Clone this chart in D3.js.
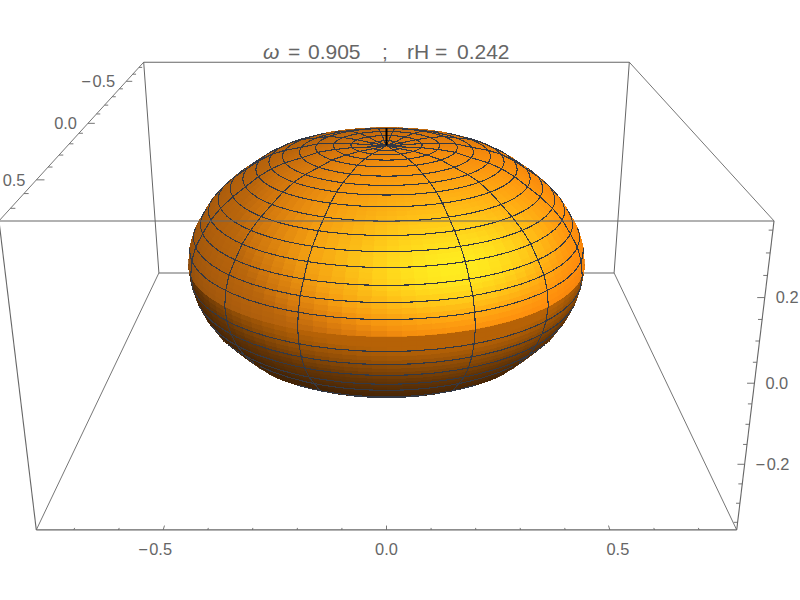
<!DOCTYPE html>
<html><head><meta charset="utf-8">
<script src="https://cdn.jsdelivr.net/npm/d3@7"></script>
<style>html,body{margin:0;padding:0;background:#fff}svg{display:block}text{font-family:"Liberation Sans",Arial,sans-serif;fill:#666}</style>
</head><body><svg id="c" width="800" height="600"></svg>
<script>
// --- data ---
const rowRho=[0,.047,.094,.14,.187,.23,.275,.311,.346,.381,.415,.448,.475,.498,.518,.53,.535,.531,.521,.505,.483,.455,.425,.39,.35,.31,.26,.21,.155,.102,.05,.02,0];
const rowZ=[.309,.309,.311,.31,.306,.295,.285,.272,.2535,.229,.205,.1765,.147,.111,.076,.038,-.003,-.044,-.083,-.12,-.155,-.186,-.22,-.24,-.257,-.272,-.285,-.296,-.303,-.31,-.31,-.31,-.31];
const meshSkipRows=[0,16,32];
const meridianDeg=[23,48,73,98,123,148,173,-173,-148,-123,-98,-73,-48,-23];
const axisStick=[.309,.357];
const titleParts=[["ω",263,"italic"],["=",288],["0.905",308],[";",382],["rH",407],["=",435],["0.242",457]];
const xMajor=[-.5,0,.5], xMinor=[-.7,-.6,-.4,-.3,-.2,-.1,.1,.2,.3,.4,.6,.7];
const yMajor=[-.5,0,.5], yMinor=[-.7,-.6,-.4,-.3,-.2,-.1,.1,.2,.3,.4,.6,.7];
const zMajor=[-.2,0,.2], zMinor=[-.35,-.3,-.25,-.15,-.1,-.05,.05,.1,.15,.25,.3,.35];
const xLabels=["−0.5","0.0","0.5"], yLabels=["−0.5","0.0","0.5"], zLabels=["−0.2","0.0","0.2"];
const boxX=.784, boxY=.78, boxZ=.37;
const R=.535, H=.31;

// --- camera ---
const sx=d3.scaleLinear([-boxX,boxX],[-1,1]), sy=d3.scaleLinear([-boxY,boxY],[-1,1]), sz=d3.scaleLinear([-boxZ,boxZ],[-1,1]);
const cam={cx:386.5,w0:.003487,wy:-.000769,wz:-.0001375,v0:.8846,vy:.157,vz:-.4715};
function projHat(a,b,c){const w=cam.w0+cam.wy*b+cam.wz*c;return [cam.cx+a/w,(cam.v0+cam.vy*b+cam.vz*c)/w,w];}
const project=(x,y,z)=>projHat(sx(x),sy(y),sz(z));
const eyeHatY=(()=>{const k=-cam.v0/cam.vz, m=-cam.vy/cam.vz;return -(cam.w0+cam.wz*k)/(cam.wy+cam.wz*m);})();
const eyeHatZ=-cam.v0/cam.vz-cam.vy/cam.vz*eyeHatY;
const eye=[0,sy.invert(eyeHatY),sz.invert(eyeHatZ)];
const el=Math.atan2(eye[2],eye[1]), ce=Math.cos(el), se=Math.sin(el);

const svg=d3.select("#c");
svg.append("rect").attr("width",800).attr("height",600).attr("fill","#fff");
const line=d3.line();
const GREY="#666";
function seg(g,a,b,w){g.append("path").attr("d",line([a.slice(0,2),b.slice(0,2)])).attr("fill","none").attr("stroke",GREY).attr("stroke-width",w);}
const P=(a,b,c)=>projHat(a,b,c);

const back=svg.append("g");
seg(back,P(-1,-1,1),P(1,-1,1),1.1);
seg(back,P(-1,-1,-1),P(1,-1,-1),1.1);
seg(back,P(-1,-1,1),P(-1,-1,-1),1);
seg(back,P(1,-1,1),P(1,-1,-1),1);
seg(back,P(-1,1,1),P(-1,-1,1),.9);
seg(back,P(1,1,1),P(1,-1,1),.9);
seg(back,P(-1,1,-1),P(-1,-1,-1),.9);
seg(back,P(1,1,-1),P(1,-1,-1),.9);

// --- surface ---
const rad=d=>d*Math.PI/180;
const rTop=d3.scaleLinear([-.4,.4,.7,.85],[140,185,245,255]).clamp(true);
const rLow=d3.scaleLinear([-.2,.1,.56],[68,100,182]).clamp(true);
const gLow=d3.scaleLinear([-.2,.1,.56],[36,53,98]).clamp(true);
function normal(rho,phi,z){
  const nr=rho/(R*R), nz=z/(H*H);
  const L=Math.hypot(nr,nz)||1;
  return [nr*Math.sin(phi)/L,nr*Math.cos(phi)/L,nz/L];
}
function shade(rho,phi,z){
  const n=normal(rho,phi,z);
  const right=n[0], up=-se*n[1]+ce*n[2], tow=ce*n[1]+se*n[2];
  const I=.204*right+.376*up+.904*tow;
  const s=(.5*right+.3*up+.8*tow)/.99;
  if(z<-.002) return d3.rgb(rLow(I),gLow(I),6)+"";
  const Ip=Math.pow(Math.max(.25*right+.35*up+.9*tow,0),8);
  const r=rTop(s);
  return d3.rgb(r,.54*r+100*Ip,12+20*Ip)+"";
}
const sub=3, nPhi=96;
const prof=[];
rowRho.forEach((r,k)=>{
  if(k<rowRho.length-1) for(let j=0;j<sub;j++){const t=j/sub;prof.push([r+(rowRho[k+1]-r)*t,rowZ[k]+(rowZ[k+1]-rowZ[k])*t]);}
  else prof.push([r,rowZ[k]]);
});
const pt3=(p,phi)=>[p[0]*Math.sin(phi),p[0]*Math.cos(phi),p[1]];
const faces=[];
for(let i=0;i<prof.length-1;i++){
  for(let j=0;j<nPhi;j++){
    const a=rad(j*360/nPhi), b=rad((j+1)*360/nPhi), m=(a+b)/2;
    const mid=[(prof[i][0]+prof[i+1][0])/2,(prof[i][1]+prof[i+1][1])/2];
    const c=pt3(mid,m), n=normal(mid[0],m,mid[1]);
    const view=(eye[0]-c[0])*n[0]+(eye[1]-c[1])*n[1]+(eye[2]-c[2])*n[2];
    if(view<-.2) continue;
    const q=[pt3(prof[i],a),pt3(prof[i],b),pt3(prof[i+1],b),pt3(prof[i+1],a)].map(v=>project(...v));
    const col=shade(mid[0],m,mid[1]);
    faces.push({d:line(q.map(p=>p.slice(0,2)))+"Z",col,dep:project(...c)[2]});
  }
}
faces.sort((a,b)=>b.dep-a.dep);
svg.append("g").attr("shape-rendering","crispEdges").selectAll("path").data(faces).join("path")
  .attr("d",f=>f.d).attr("fill",f=>f.col).attr("stroke",f=>f.col).attr("stroke-width",.8);

// --- mesh lines ---
const MESH="#343944";
const mesh=svg.append("g").attr("fill","none").attr("stroke",MESH).attr("stroke-width",1.1).attr("shape-rendering","crispEdges");
function visible(rho,phi,z){
  const c=[rho*Math.sin(phi),rho*Math.cos(phi),z], n=normal(rho,phi,z);
  return (eye[0]-c[0])*n[0]+(eye[1]-c[1])*n[1]+(eye[2]-c[2])*n[2]>0;
}
rowRho.forEach((r,k)=>{
  if(meshSkipRows.includes(k)) return;
  const z=rowZ[k], step=360/56;
  for(let j=0;j<56;j++){
    const a=rad(j*step), b=rad((j+1)*step);
    if(!visible(r,(a+b)/2,z)) continue;
    mesh.append("path").attr("d",line([project(r*Math.sin(a),r*Math.cos(a),z),project(r*Math.sin(b),r*Math.cos(b),z)].map(p=>p.slice(0,2))));
  }
});
meridianDeg.forEach(deg=>{
  const phi=rad(deg);
  for(let k=0;k<rowRho.length-1;k++){
    const r=(rowRho[k]+rowRho[k+1])/2, z=(rowZ[k]+rowZ[k+1])/2;
    if(!visible(r,phi,z)) continue;
    mesh.append("path").attr("d",line([project(rowRho[k]*Math.sin(phi),rowRho[k]*Math.cos(phi),rowZ[k]),project(rowRho[k+1]*Math.sin(phi),rowRho[k+1]*Math.cos(phi),rowZ[k+1])].map(p=>p.slice(0,2))));
  }
});

svg.append("path").attr("d",line([project(0,0,axisStick[0]),project(0,0,axisStick[1])].map(p=>p.slice(0,2)))).attr("stroke","#000").attr("stroke-width",2).attr("fill","none");

const front=svg.append("g");
seg(front,P(-1,1,1),P(1,1,1),1.1);
seg(front,P(-1,1,-1),P(1,1,-1),1.3);
seg(front,P(-1,1,1),P(-1,1,-1),1.1);
seg(front,P(1,1,1),P(1,1,-1),1.1);

const ticks=svg.append("g");
const T=(a,b)=>seg(ticks,a,b,.9);
xMajor.forEach(v=>T(P(sx(v),1,-1),P(sx(v),.978,-1)));
xMinor.forEach(v=>T(P(sx(v),1,-1),P(sx(v),.99,-1)));
yMajor.forEach(v=>T(P(-1,sy(v),1),P(-.977,sy(v),1)));
yMinor.forEach(v=>T(P(-1,sy(v),1),P(-.987,sy(v),1)));
zMajor.forEach(v=>T(P(1,1,sz(v)),P(.98,1,sz(v))));
zMinor.forEach(v=>T(P(1,1,sz(v)),P(.989,1,sz(v))));

const lab=(s,x,y,a)=>{
  const t=svg.append("text").attr("x",x).attr("y",y).attr("dy",".36em").attr("text-anchor",a).attr("font-size",16.4);
  if(s[0]==="−"){t.append("tspan").text("−");t.append("tspan").attr("dx",1.5).text(s.slice(1));}
  else t.text(s);
};
xMajor.forEach((v,i)=>{const p=P(sx(v),1,-1);lab(xLabels[i],cam.cx+(p[0]-cam.cx)*1.036,p[1]+19,"middle");});
yMajor.forEach((v,i)=>{const p=P(-1,sy(v),1);lab(yLabels[i],p[0]-11,p[1],"end");});
zMajor.forEach((v,i)=>{const p=P(1,1,sz(v));lab(zLabels[i],p[0]+11,p[1],"start");});

const title=svg.append("text").attr("y",59).attr("font-size",21);
titleParts.forEach(t=>title.append("tspan").attr("x",t[1]).attr("font-style",t[2]||"normal").text(t[0]));
</script></body></html>
